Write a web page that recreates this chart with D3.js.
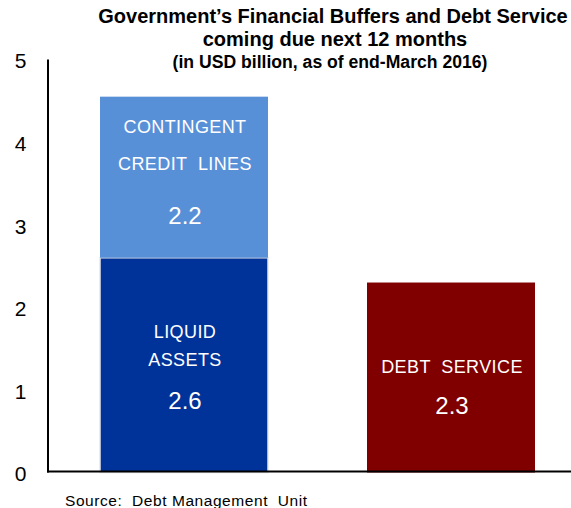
<!DOCTYPE html>
<html>
<head>
<meta charset="utf-8">
<script src="https://cdn.jsdelivr.net/npm/d3@7"></script>
<style>
  html, body { margin: 0; padding: 0; background: #fff; }
  svg { display: block; font-family: "Liberation Sans", Arial, sans-serif; }
  text { white-space: pre; }
</style>
</head>
<body>
<svg id="chart" width="571" height="508"></svg>
<script>
// ---- data ----
const titleLines = ["Government\u2019s Financial Buffers and Debt Service", "coming due next 12 months", "(in USD billion, as of end-March 2016)"];
const categories = ["Buffers", "Debt Service"];
const segmentNames = ["LIQUID ASSETS", "CONTINGENT CREDIT LINES", "DEBT SERVICE"];
const segmentCategory = ["Buffers", "Buffers", "Debt Service"];
const segmentValues = [2.6, 1.95, 2.3];          // drawn heights
const segmentLabelValues = ["2.6", "2.2", "2.3"]; // printed values
const segmentLabelLines = [["LIQUID", "ASSETS"], ["CONTINGENT", "CREDIT  LINES"], ["DEBT  SERVICE"]];
const segmentColors = ["#003399", "#5890D8", "#800000"];
const yTicks = [0, 1, 2, 3, 4, 5];
const sourceText = "Source:  Debt Management  Unit";

const svg = d3.select("#chart");
const W = 571, H = 508;
const x0 = 48;

const y = d3.scaleLinear().domain([0, 5]).range([472.5, 59.5]);
const x = d3.scaleBand().domain(categories).range([100, 535]).paddingInner(0.3708).paddingOuter(0);

// title
const titleSpec = [
  { x: 333, y: 22.5, fs: 20 },
  { x: 335, y: 46, fs: 20 },
  { x: 330, y: 68, fs: 17.6 }
];
const t = svg.append("g").attr("font-weight", "bold").attr("fill", "#000").attr("text-anchor", "middle");
titleLines.forEach((s, i) => {
  const sp = titleSpec[i];
  t.append("text").attr("x", sp.x).attr("y", sp.y).attr("font-size", sp.fs).text(s);
});

// stacked segments
const segs = segmentValues.map((v, i) => {
  let base = 0;
  for (let j = 0; j < i; j++) if (segmentCategory[j] === segmentCategory[i]) base += segmentValues[j];
  return { i, cat: segmentCategory[i], y0: base, y1: base + v };
});

svg.append("g").selectAll("rect").data(segs).join("rect")
  .attr("x", d => x(d.cat))
  .attr("width", x.bandwidth())
  .attr("y", d => y(d.y1))
  .attr("height", d => y(d.y0) - y(d.y1))
  .attr("fill", d => segmentColors[d.i])
  .attr("stroke", d => d.i === 0 ? "#e6e6e6" : "none")
  .attr("stroke-width", 1.5);

// labels within segments (offsets from segment top)
const lab = svg.append("g").attr("fill", "#fff").attr("text-anchor", "middle");
const labelOffsets = [
  { lines: [80, 108], val: 151 },
  { lines: [36, 73], val: 127 },
  { lines: [90], val: 131 }
];
segs.forEach(d => {
  const cx = x(d.cat) + x.bandwidth() / 2 + 1;
  const top = y(d.y1);
  const off = labelOffsets[d.i];
  segmentLabelLines[d.i].forEach((ln, k) => {
    lab.append("text").attr("x", cx).attr("y", top + off.lines[k])
      .attr("font-size", 18).attr("letter-spacing", 0.4).text(ln);
  });
  lab.append("text").attr("x", cx).attr("y", top + off.val)
    .attr("font-size", 24).text(segmentLabelValues[d.i]);
});

// axes
const yAxis = d3.axisLeft(y).tickValues(yTicks).tickSize(0).tickPadding(20).tickFormat(d3.format("d"));
const gy = svg.append("g").attr("transform", `translate(${x0},0)`).call(yAxis);
gy.select(".domain").remove();
gy.selectAll("text").attr("font-size", 21).attr("font-family", "Liberation Sans, Arial, sans-serif")
  .attr("fill", "#000").attr("text-anchor", "middle").attr("dx", "-0.35em").attr("dy", "0.4em");

svg.append("line").attr("x1", x0).attr("x2", x0).attr("y1", y(5)).attr("y2", y(0))
  .attr("stroke", "#000").attr("stroke-width", 2);
svg.append("line").attr("x1", x0 - 1).attr("x2", W).attr("y1", y(0) - 1).attr("y2", y(0) - 1)
  .attr("stroke", "#000").attr("stroke-width", 2);

// source
svg.append("text").attr("x", 65).attr("y", 506).attr("font-size", 15.5).attr("fill", "#000")
  .attr("textLength", 242).attr("lengthAdjust", "spacing").text(sourceText);
</script>
</body>
</html>
